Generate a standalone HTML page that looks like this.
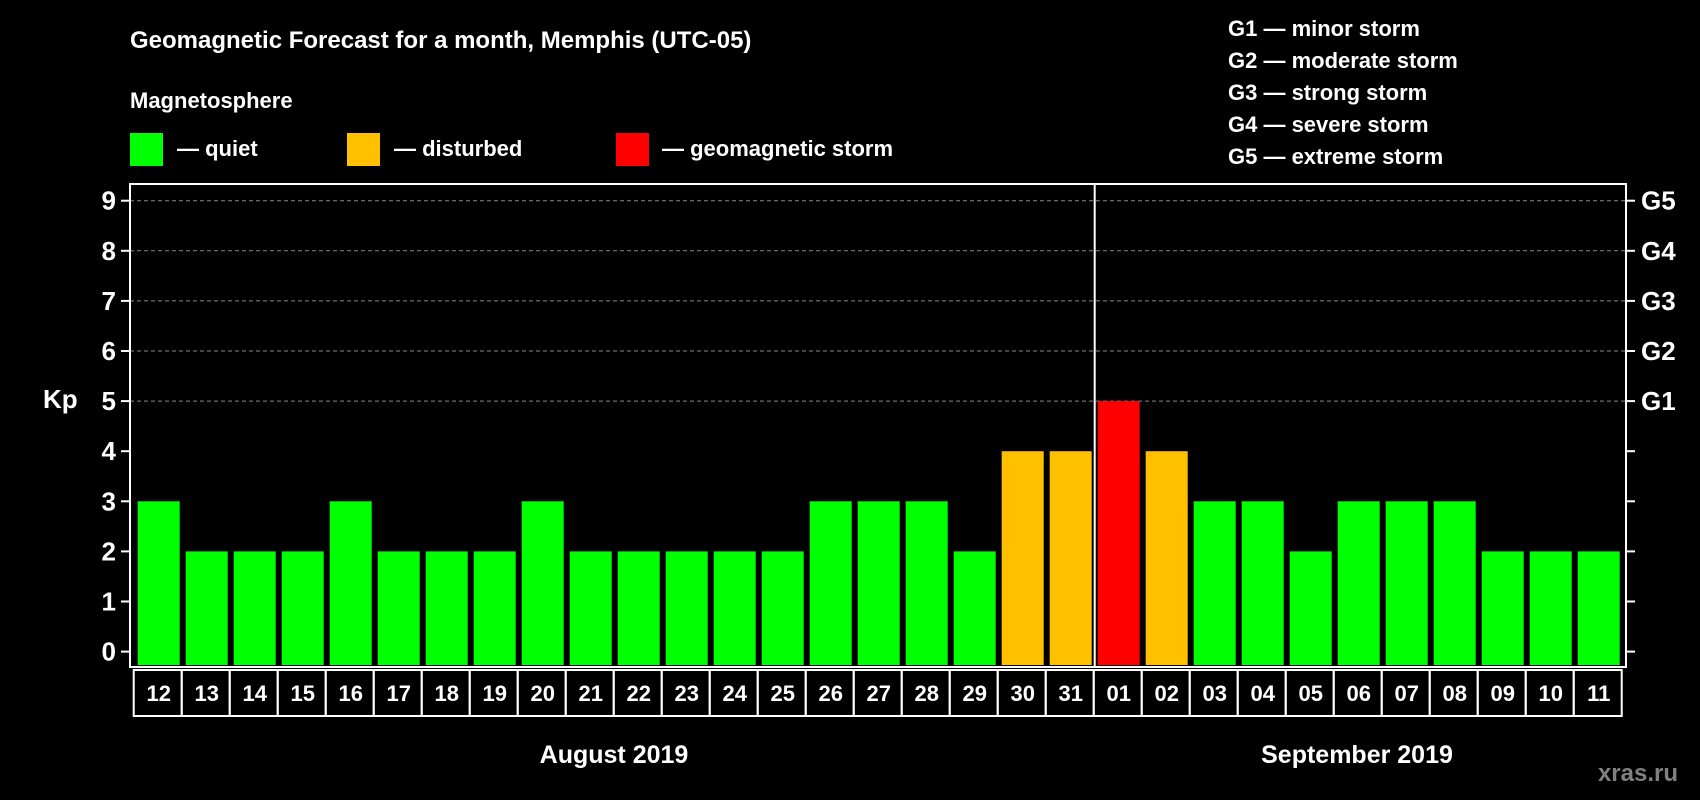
<!DOCTYPE html>
<html><head><meta charset="utf-8"><style>
html,body{margin:0;padding:0;background:#000;}
svg{display:block;font-family:"Liberation Sans",Arial,sans-serif;font-weight:bold;}
</style></head><body>
<svg id="chart" width="1700" height="800" viewBox="0 0 1700 800">
<rect width="1700" height="800" fill="#000"/>
<text x="130" y="48" fill="#fff" font-size="24">Geomagnetic Forecast for a month, Memphis (UTC-05)</text>
<text x="130" y="108" fill="#fff" font-size="22">Magnetosphere</text>
<rect x="130" y="133" width="33" height="33" fill="#00ff00"/>
<text x="177" y="156" fill="#fff" font-size="22">— quiet</text>
<rect x="347" y="133" width="33" height="33" fill="#ffc000"/>
<text x="394" y="156" fill="#fff" font-size="22">— disturbed</text>
<rect x="616" y="133" width="33" height="33" fill="#ff0000"/>
<text x="662" y="156" fill="#fff" font-size="22">— geomagnetic storm</text>
<g fill="#fff" font-size="22">
<text x="1228" y="36">G1 — minor storm</text>
<text x="1228" y="68">G2 — moderate storm</text>
<text x="1228" y="100">G3 — strong storm</text>
<text x="1228" y="132">G4 — severe storm</text>
<text x="1228" y="164">G5 — extreme storm</text>
</g>
<text x="43" y="408" fill="#fff" font-size="26">Kp</text>
<g id="grid"></g><g id="bars"></g><g id="axes"></g><g id="dates"></g>
<text x="614" y="763" fill="#fff" font-size="25" text-anchor="middle">August 2019</text>
<text x="1357" y="763" fill="#fff" font-size="25" text-anchor="middle">September 2019</text>
<text x="1678" y="781" fill="#808080" font-size="24" text-anchor="end">xras.ru</text>
</svg>
<script>
const days = ["12","13","14","15","16","17","18","19","20","21","22","23","24","25","26","27","28","29","30","31","01","02","03","04","05","06","07","08","09","10","11"];
const kpValues = [3,2,2,2,3,2,2,2,3,2,2,2,2,2,3,3,3,2,4,4,5,4,3,3,2,3,3,3,2,2,2];
const yTicks = [0,1,2,3,4,5,6,7,8,9];
const gLabels = ["G1","G2","G3","G4","G5"];
const gLevels = [5,6,7,8,9];
const NS="http://www.w3.org/2000/svg";
const L=130,R=1626,T=184,B=667,Y0=651.6,UNIT=50.1,X0=137.7,PITCH=48,BW=42;
const y=v=>Y0-v*UNIT, x=i=>X0+i*PITCH;
function mk(tag,attrs,parent){const e=document.createElementNS(NS,tag);for(const k in attrs)e.setAttribute(k,attrs[k]);parent.appendChild(e);return e;}
const grid=document.getElementById('grid'),bars=document.getElementById('bars'),axes=document.getElementById('axes'),dates=document.getElementById('dates');
gLevels.forEach((g,i)=>{
  const ln=mk('line',{x1:L,x2:R,y1:y(g),y2:y(g),stroke:'#888','stroke-dasharray':'4,3','stroke-width':1},grid);
  
  
  const t=mk('text',{x:1641,y:y(g)+9,fill:'#fff','font-size':26},axes);
  t.textContent=gLabels[i];
  
  
});
kpValues.forEach((v,i)=>{
  const c=v>=5?'#ff0000':(v>=4?'#ffc000':'#00ff00');
  const r=mk('rect',{x:x(i),y:y(v),width:BW,height:B-2-y(v),fill:c},bars);
  
  
  const bx=mk('rect',{x:x(i)-4,y:670,width:PITCH,height:46,fill:'none',stroke:'#fff','stroke-width':2},dates);
  
  
  const t=mk('text',{x:x(i)+BW/2,y:701,fill:'#fff','font-size':22,'text-anchor':'middle'},dates);
  t.textContent=days[i];
  
  
});
const fr=mk('rect',{x:L,y:T,width:R-L,height:B-T,fill:'none',stroke:'#fff','stroke-width':2},axes);


const sep=mk('line',{x1:x(20)-3,x2:x(20)-3,y1:T,y2:B,stroke:'#fff','stroke-width':2},axes);


yTicks.forEach(v=>{
  const a=mk('line',{x1:L-9,x2:L,y1:y(v),y2:y(v),stroke:'#fff','stroke-width':2},axes);
  
  
  const b=mk('line',{x1:R,x2:R+9,y1:y(v),y2:y(v),stroke:'#fff','stroke-width':2},axes);
  
  
  const t=mk('text',{x:116,y:y(v)+9,fill:'#fff','font-size':26,'text-anchor':'end'},axes);
  t.textContent=v;
  
  
});
</script>
</body></html>
